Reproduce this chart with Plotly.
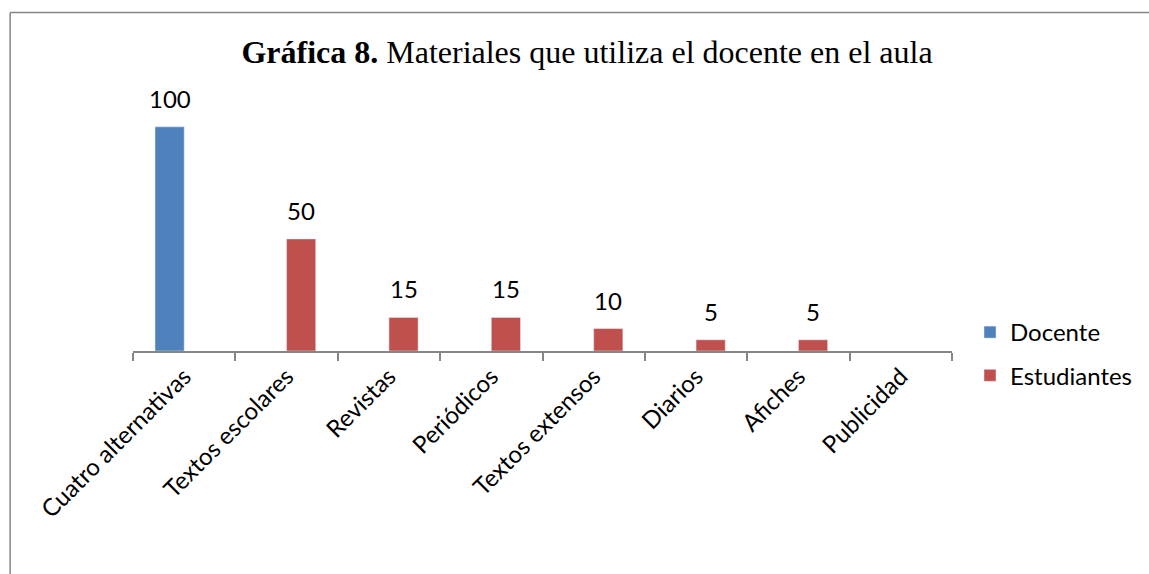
import plotly.graph_objects as go

categories = ["Cuatro alternativas", "Textos escolares", "Revistas", "Periódicos",
              "Textos extensos", "Diarios", "Afiches", "Publicidad"]
docente = [100, None, None, None, None, None, None, None]
estudiantes = [None, 50, 15, 15, 10, 5, 5, None]

W, H = 1149, 574
L, R, T, B = 133, 196, 82, 223
pw, ph = W - L - R, H - T - B
BARGAP = 0.43

lab_font = dict(family="Lato, Open Sans, sans-serif", size=24, color="black")

fig = go.Figure()
fig.add_trace(go.Bar(x=categories, y=docente, name="Docente", marker_color="#4F81BD",
                     legendgroup="a"))
fig.add_trace(go.Bar(x=categories, y=estudiantes, name="Estudiantes", marker_color="#C0504D",
                     legendgroup="b"))

# data labels above bars
cat_w = pw / len(categories)
bar_w = cat_w * (1 - BARGAP) / 2
for vals, shift in ((docente, -bar_w / 2), (estudiantes, bar_w / 2)):
    for c, v in zip(categories, vals):
        if v is not None:
            fig.add_annotation(x=c, y=v, text=str(v), showarrow=False, xshift=shift,
                               yanchor="bottom", yshift=12, font=lab_font)

def px_x(x):
    return (x - L) / pw

def px_y(y):
    return 1 - (y - T) / ph

border = dict(color="#868686", width=1.5)
fig.add_shape(type="line", xref="paper", yref="paper",
              x0=px_x(10), x1=px_x(W + 5), y0=px_y(12.5), y1=px_y(12.5), line=border)
fig.add_shape(type="line", xref="paper", yref="paper",
              x0=px_x(10), x1=px_x(10), y0=px_y(12.5), y1=px_y(H + 5), line=border)

fig.update_layout(
    width=W, height=H,
    margin=dict(l=L, r=R, t=T, b=B),
    paper_bgcolor="white", plot_bgcolor="white",
    barmode="group", bargap=BARGAP, bargroupgap=0,
    title=dict(text="<b>Gráfica 8.</b> Materiales que utiliza el docente en el aula",
               font=dict(family="Liberation Serif, Times New Roman, serif", size=32, color="black"),
               x=587 / W, xanchor="center", xref="container",
               y=1 - 52 / H, yanchor="middle", yref="container"),
    legend=dict(x=px_x(970), y=px_y(310), xanchor="left", yanchor="top",
                font=lab_font, tracegroupgap=9, itemwidth=30,
                bgcolor="rgba(0,0,0,0)"),
    showlegend=True,
)
fig.update_xaxes(type="category", tickson="boundaries", ticks="outside", ticklen=8,
                 tickcolor="#868686", tickwidth=2, showline=True, linecolor="#868686",
                 linewidth=2, tickangle=-45, tickfont=lab_font, showgrid=False)
fig.update_yaxes(range=[0, 120], visible=False, showgrid=False, zeroline=False)

fig.write_html("out.html", config={"displayModeBar": False},
               post_script="document.body.style.margin='0px';document.body.style.overflow='hidden';document.documentElement.style.overflow='hidden';")
